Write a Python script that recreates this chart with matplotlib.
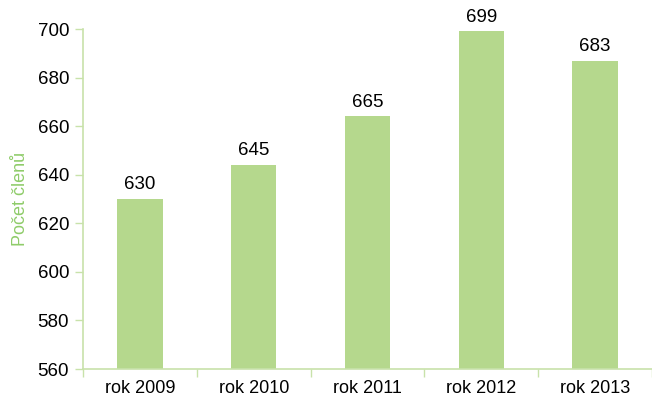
import matplotlib.pyplot as plt
import numpy as np

plt.rcParams['font.family'] = ['Liberation Sans', 'DejaVu Sans']

roky = ["rok 2009", "rok 2010", "rok 2011", "rok 2012", "rok 2013"]
vysky = [630, 644, 664, 699, 687]   # bar heights as drawn
popisky = ["630", "645", "665", "699", "683"]   # printed labels

zelena = '#b5d88d'
osa = '#c8e2aa'

fig = plt.figure(figsize=(6.52, 4.04), dpi=100)
ax = fig.add_axes([0.1273, 0.0866, 0.8727, 0.8416])

x = np.arange(len(roky))
bars = ax.bar(x, vysky, width=0.40, color=zelena, zorder=2)
for b, t in zip(bars, popisky):
    ax.annotate(t, (b.get_x() + b.get_width()/2, b.get_height()),
                xytext=(0, 4), textcoords='offset points',
                ha='center', va='bottom', fontsize=13.5, color='black')

ax.set_ylim(560, 700)
ax.set_xlim(-0.5, len(roky) - 0.5)
ax.set_yticks(np.arange(560, 701, 20))
ax.set_xticks(x)
ax.set_xticklabels(roky)
ax.set_xticks(np.arange(-0.5, len(roky)), minor=True)
ax.tick_params(axis='x', which='major', length=0, pad=8, labelsize=13)
ax.tick_params(axis='x', which='minor', length=6, color=osa, width=1)
ax.tick_params(axis='y', length=6, color=osa, width=1, labelsize=13.5, pad=4)

for s in ['top', 'right']:
    ax.spines[s].set_visible(False)
for s in ['left', 'bottom']:
    ax.spines[s].set_color(osa)
    ax.spines[s].set_linewidth(1.2)

ax.set_ylabel("Počet členů", color='#8fcc6a', fontsize=13, labelpad=6)

plt.savefig("out.png", dpi=100)
